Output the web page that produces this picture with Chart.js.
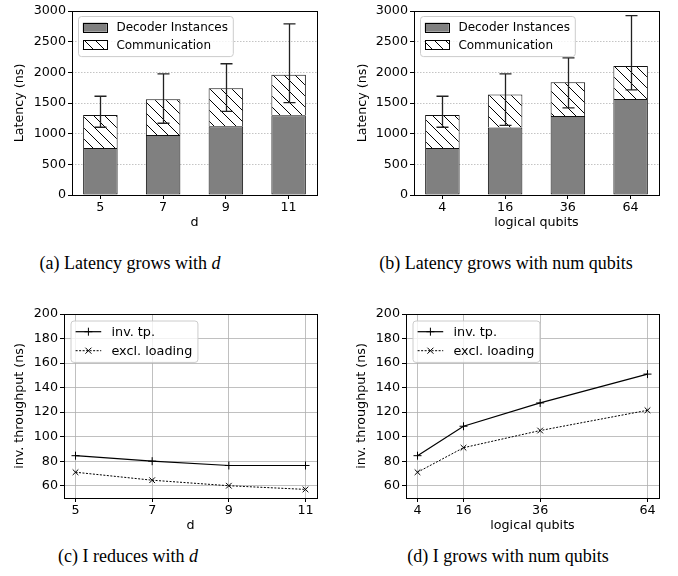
<!DOCTYPE html>
<html>
<head>
<meta charset="utf-8">
<script src="https://cdn.jsdelivr.net/npm/chart.js@4.4.1/dist/chart.umd.min.js"></script>
<style>
  body { margin: 0; background: #fff; width: 678px; height: 576px; position: relative; overflow: hidden; }
  canvas { position: absolute; }
  .cap { position: absolute; font-family: "Liberation Serif", "DejaVu Serif", serif; font-size: 18px; color: #000;
         white-space: nowrap; transform: translate(-50%, -50%); }
</style>
</head>
<body>
<canvas id="ca" width="339" height="240" style="left:0;top:0"></canvas>
<canvas id="cb" width="339" height="240" style="left:339px;top:0"></canvas>
<canvas id="cc" width="339" height="250" style="left:0;top:290px"></canvas>
<canvas id="cd" width="339" height="250" style="left:339px;top:290px"></canvas>
<div class="cap" style="left:130px;top:263px">(a) Latency grows with <i>d</i></div>
<div class="cap" style="left:506px;top:263px">(b) Latency grows with num qubits</div>
<div class="cap" style="left:128px;top:556px">(c) I reduces with <i>d</i></div>
<div class="cap" style="left:508px;top:556px">(d) I grows with num qubits</div>
<script>
// data
var catD = ['5', '7', '9', '11'];
var catQ = ['4', '16', '36', '64'];
var decoderD = [765, 980, 1120, 1300];
var commD = [540, 580, 620, 660];
var errHiD = [1610, 1975, 2140, 2790];
var errLoD = [1105, 1170, 1365, 1505];
var decoderQ = [765, 1100, 1290, 1565];
var commQ = [540, 540, 550, 540];
var errHiQ = [1610, 1975, 2235, 2925];
var errLoQ = [1105, 1135, 1420, 1715];
var latTicks = [0, 500, 1000, 1500, 2000, 2500, 3000];

var dVals = [5, 7, 9, 11];
var qVals = [4, 16, 36, 64];
var invTpD = [84.5, 80, 76.5, 76.5];
var exclD = [71, 64.5, 60, 57];
var invTpQ = [84.5, 108.5, 127.5, 151];
var exclQ = [71, 91, 105, 121.5];
var tpTicks = [60, 80, 100, 120, 140, 160, 180, 200];

Chart.defaults.font.family = '"DejaVu Sans", sans-serif';
Chart.defaults.font.size = 12.7;
Chart.defaults.color = '#000';

// hatch '\\' fill
function makeHatch() {
  var s = 11;
  var c = document.createElement('canvas');
  c.width = s; c.height = s;
  var g = c.getContext('2d');
  g.fillStyle = '#fff';
  g.fillRect(0, 0, s, s);
  g.strokeStyle = '#000';
  g.lineWidth = 1;
  g.beginPath();
  g.moveTo(-1, -1); g.lineTo(s + 1, s + 1);
  g.moveTo(-1, s - 1); g.lineTo(1, s + 1);
  g.moveTo(s - 1, -1); g.lineTo(s + 1, 1);
  g.stroke();
  return g.createPattern(c, 'repeat');
}
var hatch = makeHatch();

// black box round the plot
var frame = {
  id: 'frame',
  afterDatasetsDraw: function(chart) {
    var a = chart.chartArea, ctx = chart.ctx;
    ctx.save();
    ctx.strokeStyle = '#000';
    ctx.lineWidth = 1;
    ctx.strokeRect(Math.round(a.left) + 0.5, Math.round(a.top) + 0.5,
      Math.round(a.right - a.left), Math.round(a.bottom - a.top));
    ctx.restore();
  }
};

var errbars = {
  id: 'errbars',
  afterDatasetsDraw: function(chart, args, o) {
    if (!o.hi) return;
    var ctx = chart.ctx, xs = chart.scales.x, ys = chart.scales.y;
    ctx.save();
    ctx.strokeStyle = '#222';
    ctx.lineWidth = 1.3;
    o.hi.forEach(function(h, i) {
      var x = Math.round(xs.getPixelForValue(i)) + 0.5;
      var y1 = ys.getPixelForValue(h), y2 = ys.getPixelForValue(o.lo[i]);
      ctx.beginPath();
      ctx.moveTo(x, y1); ctx.lineTo(x, y2);
      ctx.moveTo(x - 6, y1); ctx.lineTo(x + 6, y1);
      ctx.moveTo(x - 6, y2); ctx.lineTo(x + 6, y2);
      ctx.stroke();
    });
    ctx.restore();
  }
};

var boxLegend = {
  id: 'boxLegend',
  afterDraw: function(chart, args, o) {
    var ctx = chart.ctx, a = chart.chartArea, sets = chart.data.datasets;
    ctx.save();
    ctx.font = o.size + 'px "DejaVu Sans"';
    var pad = o.size * 0.4, hl = o.size * 2, tp = o.size * 0.8;
    var tw = Math.max.apply(null, sets.map(function(s) { return ctx.measureText(s.label).width; }));
    var bx = a.left + o.dx, by = a.top + o.dy;
    var w = pad * 2 + hl + tp + tw, h = o.edge * 2 + o.row * (sets.length - 1);
    ctx.beginPath();
    ctx.roundRect(bx + 0.5, by + 0.5, w, h, 3);
    ctx.fillStyle = 'rgba(255,255,255,0.8)';
    ctx.fill();
    ctx.strokeStyle = '#cccccc';
    ctx.lineWidth = 1;
    ctx.stroke();
    sets.forEach(function(s, i) {
      var cy = by + o.edge + o.row * i;
      var hx = bx + pad;
      if (o.kind === 'bar') {
        ctx.fillStyle = s.backgroundColor;
        ctx.fillRect(hx, cy - 4.5, hl, 9);
        ctx.strokeStyle = '#000';
        ctx.lineWidth = 1;
        ctx.strokeRect(Math.round(hx) + 0.5, Math.round(cy - 4.5) + 0.5, Math.round(hl), 9);
      } else {
        ctx.strokeStyle = '#000';
        ctx.lineWidth = s.borderWidth;
        ctx.setLineDash(s.borderDash || []);
        ctx.beginPath();
        ctx.moveTo(hx, cy); ctx.lineTo(hx + hl, cy);
        ctx.stroke();
        ctx.setLineDash([]);
        ctx.lineWidth = 1;
        var mx = hx + hl / 2, r = 4;
        ctx.beginPath();
        if (s.pointStyle === 'cross') {
          ctx.moveTo(mx - r, cy); ctx.lineTo(mx + r, cy);
          ctx.moveTo(mx, cy - r); ctx.lineTo(mx, cy + r);
        } else {
          var q = r * 0.75;
          ctx.moveTo(mx - q, cy - q); ctx.lineTo(mx + q, cy + q);
          ctx.moveTo(mx - q, cy + q); ctx.lineTo(mx + q, cy - q);
        }
        ctx.stroke();
      }
      ctx.fillStyle = '#000';
      ctx.textBaseline = 'middle';
      ctx.fillText(s.label, hx + hl + tp, cy + 0.5);
    });
    ctx.restore();
  }
};

function tickSet(vals) {
  return function(scale) { scale.ticks = vals.map(function(v) { return { value: v }; }); };
}
function plain(v) { return String(v); }

function barChart(id, cats, dec, comm, hi, lo, xTitle, lay) {
  var idx = cats.map(function(c, i) { return i; });
  return new Chart(document.getElementById(id), {
    type: 'bar',
    data: {
      datasets: [
        { label: 'Decoder Instances', data: dec.map(function(v, i) { return { x: i, y: v }; }),
          backgroundColor: '#808080', borderColor: '#111', borderWidth: 1, borderSkipped: false },
        { label: 'Communication', data: comm.map(function(v, i) { return { x: i, y: v }; }),
          backgroundColor: hatch, borderColor: '#111', borderWidth: 1, borderSkipped: 'start' }
      ]
    },
    options: {
      responsive: false, animation: false, devicePixelRatio: 1,
      categoryPercentage: 1, barPercentage: 0.55,
      layout: { padding: { top: lay.top, right: lay.right, left: 0, bottom: 0 } },
      plugins: {
        legend: { display: false }, tooltip: { enabled: false },
        errbars: { hi: hi, lo: lo },
        boxLegend: { kind: 'bar', size: 12, dx: 6, dy: 5, edge: 11.2, row: 17.7 }
      },
      scales: {
        x: {
          type: 'linear', stacked: true, offset: false,
          min: -0.4525, max: cats.length - 1 + 0.4525,
          afterBuildTicks: tickSet(idx),
          afterFit: function(s) { s.height = 45; },
          ticks: { autoSkip: false, padding: 1, maxRotation: 0,
                   callback: function(v) { return cats[v]; } },
          grid: { drawOnChartArea: false, drawTicks: true, tickLength: 4, tickColor: '#000', tickWidth: 1, offset: false },
          border: { display: false },
          title: { display: true, text: xTitle, padding: { top: 0, bottom: 9.4 } }
        },
        y: {
          stacked: true, min: 0, max: 3000,
          afterBuildTicks: tickSet(latTicks),
          afterFit: function(s) { s.width = lay.yw; },
          ticks: { padding: 2, callback: plain },
          grid: { color: '#c4c4c4', lineWidth: 1, tickLength: 4, tickColor: '#000', tickWidth: 1, tickBorderDash: [] },
          border: { display: false, dash: [1.5, 1.5] },
          title: { display: true, text: 'Latency (ns)', padding: { top: lay.tpad, bottom: 0 } }
        }
      }
    },
    plugins: [frame, errbars, boxLegend]
  });
}

function lineChart(id, xs, inv, excl, xmin, xmax, xTitle, lay) {
  return new Chart(document.getElementById(id), {
    type: 'line',
    data: {
      datasets: [
        { label: 'inv. tp.', data: inv.map(function(v, i) { return { x: xs[i], y: v }; }),
          borderColor: '#000', backgroundColor: '#000', borderWidth: 1.2, fill: false,
          pointStyle: 'cross', pointRadius: 4, pointBorderWidth: 1, tension: 0 },
        { label: 'excl. loading', data: excl.map(function(v, i) { return { x: xs[i], y: v }; }),
          borderColor: '#000', backgroundColor: '#000', borderWidth: 1, borderDash: [2, 1.5], fill: false,
          pointStyle: 'crossRot', pointRadius: 4, pointBorderWidth: 1, tension: 0 }
      ]
    },
    options: {
      responsive: false, animation: false, devicePixelRatio: 1,
      layout: { padding: { top: lay.top, right: lay.right, left: 0, bottom: 0 } },
      plugins: {
        legend: { display: false }, tooltip: { enabled: false },
        boxLegend: { kind: 'line', size: 12.8, dx: 6.5, dy: 6.5, edge: 11.2, row: 19 }
      },
      scales: {
        x: {
          type: 'linear', min: xmin, max: xmax,
          afterBuildTicks: tickSet(xs),
          afterFit: function(s) { s.height = 42; },
          ticks: { autoSkip: false, padding: 1, maxRotation: 0, callback: plain },
          grid: { color: '#b0b0b0', lineWidth: 0.8, tickLength: 4, tickColor: '#000', tickWidth: 1 },
          border: { display: false },
          title: { display: true, text: xTitle, padding: { top: 0, bottom: 6.5 } }
        },
        y: {
          min: 50, max: 200,
          afterBuildTicks: tickSet(tpTicks),
          afterFit: function(s) { s.width = lay.yw; },
          ticks: { padding: 2, callback: plain },
          grid: { color: '#b0b0b0', lineWidth: 0.8, tickLength: 4, tickColor: '#000', tickWidth: 1 },
          border: { display: false },
          title: { display: true, text: 'inv. throughput (ns)', padding: { top: lay.tpad, bottom: 0 } }
        }
      }
    },
    plugins: [frame, boxLegend]
  });
}

barChart('ca', catD, decoderD, commD, errHiD, errLoD, 'd', { top: 11, right: 22, yw: 72, tpad: 12.4 });
barChart('cb', catQ, decoderQ, commQ, errHiQ, errLoQ, 'logical qubits', { top: 11, right: 19, yw: 75, tpad: 16.4 });
lineChart('cc', dVals, invTpD, exclD, 4.7, 11.3, 'd', { top: 24, right: 22, yw: 64, tpad: 12.4 });
lineChart('cd', qVals, invTpQ, exclQ, 1, 67, 'logical qubits', { top: 24, right: 19, yw: 67, tpad: 15.4 });
</script>
</body>
</html>
